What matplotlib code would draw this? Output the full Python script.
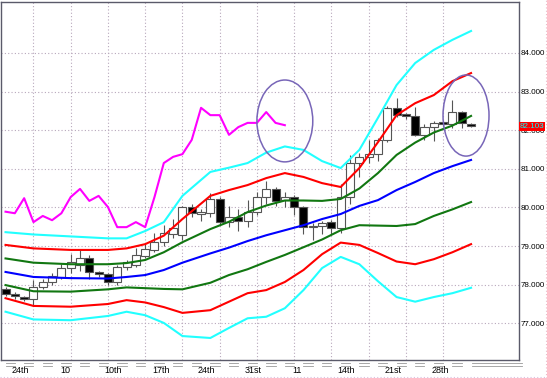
import matplotlib
matplotlib.use('Agg')
import matplotlib.pyplot as plt
import matplotlib.transforms as mtransforms
from matplotlib.patches import Ellipse
from matplotlib.lines import Line2D

# daily candles
opens = [77.90, 77.76, 77.69, 77.63, 77.94, 78.07, 78.20, 78.42, 78.51, 78.69,
         78.32, 78.27, 78.08, 78.45, 78.52, 78.75, 78.90, 79.10, 79.30, 79.28,
         80.00, 79.83, 79.85, 80.23, 79.62, 79.75, 79.66, 79.88, 80.26, 80.48,
         80.20, 80.28, 80.00, 79.50, 79.52, 79.62, 79.48, 80.27, 81.15, 81.30,
         81.38, 81.75, 82.58, 82.40, 82.38, 81.88, 82.08, 82.18, 82.17, 82.47,
         82.15]
highs = [77.95, 77.80, 77.72, 78.12, 78.15, 78.30, 78.53, 78.80, 78.92, 78.78,
         78.35, 78.30, 78.50, 78.65, 78.95, 79.05, 79.35, 79.55, 79.70, 80.05,
         80.10, 79.95, 80.38, 80.26, 80.05, 79.95, 80.20, 80.40, 80.68, 80.52,
         80.40, 80.32, 80.05, 79.60, 79.65, 79.68, 80.60, 81.35, 81.40, 81.75,
         81.80, 82.62, 82.83, 82.45, 82.60, 82.15, 82.25, 82.22, 82.78, 82.50,
         82.18]
lows = [77.72, 77.62, 77.58, 77.45, 77.88, 78.00, 78.15, 78.30, 78.35, 78.15,
        78.20, 77.98, 78.00, 78.38, 78.45, 78.70, 78.85, 79.00, 79.20, 79.15,
        79.75, 79.65, 79.75, 79.55, 79.50, 79.38, 79.50, 79.80, 80.10, 80.05,
        80.00, 79.80, 79.30, 79.15, 79.30, 79.30, 79.35, 80.10, 80.80, 81.15,
        81.20, 81.70, 82.35, 82.30, 81.85, 81.75, 81.72, 82.10, 82.05, 82.05,
        82.08]
closes = [77.77, 77.70, 77.63, 77.94, 78.06, 78.22, 78.44, 78.60, 78.69, 78.32,
          78.28, 78.08, 78.45, 78.59, 78.77, 78.92, 79.10, 79.34, 79.47, 80.00,
          79.85, 79.87, 80.23, 79.62, 79.75, 79.66, 79.88, 80.26, 80.48, 80.17,
          80.28, 80.00, 79.50, 79.52, 79.60, 79.48, 80.27, 81.15, 81.30, 81.38,
          81.75, 82.58, 82.40, 82.38, 81.88, 82.08, 82.18, 82.17, 82.47, 82.18,
          82.103]

# bollinger bands, sampled at these candle numbers
band_idx = [0, 3, 7, 11, 13, 15, 17, 19, 22, 24, 26, 28, 30, 32, 34, 36, 38, 40, 42, 44, 46, 48, 50]
mid = [78.33, 78.20, 78.17, 78.16, 78.20, 78.25, 78.38, 78.57, 78.81, 78.96, 79.13, 79.28,
       79.41, 79.54, 79.70, 79.83, 80.04, 80.19, 80.45, 80.66, 80.89, 81.07, 81.23]
up1 = [78.68, 78.57, 78.53, 78.53, 78.56, 78.64, 78.84, 79.10, 79.44, 79.63, 79.88, 80.05,
       80.18, 80.18, 80.17, 80.22, 80.49, 80.89, 81.36, 81.68, 81.94, 82.12, 82.37]
up2 = [79.03, 78.94, 78.90, 78.90, 78.94, 79.05, 79.27, 79.70, 80.30, 80.45, 80.58, 80.76,
       80.89, 80.79, 80.63, 80.53, 81.02, 81.69, 82.39, 82.70, 82.91, 83.27, 83.48]
up3 = [79.36, 79.30, 79.25, 79.20, 79.20, 79.39, 79.62, 80.30, 80.92, 81.03, 81.15, 81.42,
       81.58, 81.49, 81.20, 81.02, 81.49, 82.32, 83.17, 83.74, 84.08, 84.34, 84.57]
dn1 = [77.99, 77.83, 77.82, 77.88, 77.93, 77.91, 77.89, 77.88, 78.05, 78.25, 78.40, 78.59,
       78.77, 78.97, 79.17, 79.41, 79.54, 79.53, 79.52, 79.57, 79.78, 79.95, 80.14]
dn2 = [77.65, 77.45, 77.43, 77.50, 77.60, 77.54, 77.42, 77.27, 77.34, 77.56, 77.78, 77.86,
       78.07, 78.38, 78.79, 79.09, 79.03, 78.82, 78.60, 78.53, 78.66, 78.84, 79.05]
dn3 = [77.30, 77.10, 77.08, 77.19, 77.30, 77.21, 77.01, 76.67, 76.62, 76.88, 77.13, 77.17,
       77.39, 77.86, 78.43, 78.72, 78.53, 78.09, 77.68, 77.56, 77.68, 77.78, 77.92]

# lagging line (candles 0..30)
lag_line = [79.89, 79.85, 80.24, 79.62, 79.78, 79.67, 79.85, 80.27, 80.48, 80.17, 80.30,
            80.01, 79.49, 79.49, 79.62, 79.49, 80.27, 81.15, 81.31, 81.38, 81.75, 82.58,
            82.39, 82.39, 81.88, 82.08, 82.19, 82.19, 82.47, 82.19, 82.13]

y_ticks = [77, 78, 79, 80, 81, 82, 83, 84]
x_labels = ['24th', '10', '10th', '17th', '24th', '31st', '11', '14th', '21st', '28th']
x_label_pos = [1.6, 6.4, 11.6, 16.7, 21.6, 26.6, 31.3, 36.6, 41.6, 46.7]
week_lines = [3, 7, 11, 15, 19, 23, 27, 31, 35, 39, 43, 47]
last_price = 82.103

small_font = ['Liberation Sans', 'DejaVu Sans']

fig = plt.figure(figsize=(5.47, 3.78), dpi=100)
ax = fig.add_axes([0.5 / 547, 18 / 378, 518.5 / 547, 358 / 378])
ax.set_xlim(-0.54, 55.15)
ax.set_ylim(76.05, 85.32)

# grid
grid_col = '#b8a8bc'
for x in week_lines:
    ax.axvline(x, color=grid_col, lw=0.8, ls=(0, (1, 2)), zorder=0)
for y in y_ticks:
    ax.axhline(y, color=grid_col, lw=0.8, ls=(0, (1, 2)), zorder=0)

# candles
idx = list(range(len(closes)))
ax.vlines(idx, lows, highs, color='#555555', lw=0.8, zorder=2)
bottoms = [min(o, c) for o, c in zip(opens, closes)]
heights = [max(abs(c - o), 0.03) for o, c in zip(opens, closes)]
colors = ['black' if c < o else 'white' for o, c in zip(opens, closes)]
ax.bar(idx, heights, bottom=bottoms, width=0.86, color=colors,
       edgecolor='#555555', linewidth=0.8, zorder=3)

# bands
lw = 1.5
ax.plot(band_idx, up3, color='#22ffff', lw=lw, zorder=4)
ax.plot(band_idx, dn3, color='#22ffff', lw=lw, zorder=4)
ax.plot(band_idx, up2, color='#ff0000', lw=lw, zorder=4)
ax.plot(band_idx, dn2, color='#ff0000', lw=lw, zorder=4)
ax.plot(band_idx, up1, color='#117711', lw=lw, zorder=4)
ax.plot(band_idx, dn1, color='#117711', lw=lw, zorder=4)
ax.plot(band_idx, mid, color='#0000ff', lw=lw, zorder=4)
ax.plot(range(len(lag_line)), lag_line, color='#ff00ff', lw=lw, zorder=4)

# circles
for cx, cy, w, h in [(30.0, 82.24, 6.0, 2.12), (49.46, 82.38, 4.94, 2.10)]:
    ax.add_patch(Ellipse((cx, cy), w, h, fill=False, edgecolor='#7866b8', lw=1.1, zorder=5))

# axes styling
for s in ax.spines.values():
    s.set_color('#5a5a6a')
    s.set_linewidth(1.0)
ax.yaxis.tick_right()
ax.set_yticks(y_ticks)
ax.set_yticklabels(['%.3f' % v for v in y_ticks], family=small_font, fontsize=5.8)
ax.set_xticks(x_label_pos)
ax.set_xticklabels(x_labels, family=small_font, fontsize=6.5)
ax.tick_params(axis='both', length=0)
ax.tick_params(axis='y', pad=1)
ax.tick_params(axis='x', pad=4.5)

# last price tag
trans = mtransforms.blended_transform_factory(ax.transAxes, ax.transData)
ax.text(1.002, last_price, '%.3f' % last_price, transform=trans, fontsize=5.8,
        family=small_font, color='#00ffff', va='center', ha='left', zorder=10,
        bbox=dict(boxstyle='square,pad=0.1', facecolor='#ff0000', edgecolor='none'))

# separator dashes under the axis
tb = mtransforms.blended_transform_factory(ax.transData, ax.transAxes)
for k in range(25):
    for yy in (-0.009, -0.016):
        ax.plot([2 * k, 2 * k + 1], [yy, yy], color='#999999', lw=0.6,
                transform=tb, clip_on=False)
for yy in (-0.009, -0.016):
    ax.plot([50.1, 55.5], [yy, yy], color='#999999', lw=0.6, transform=tb, clip_on=False)

# outer dotted frame
fig.add_artist(Line2D([545.5 / 547, 545.5 / 547], [0, 1], color='#f0b8c8', lw=0.8, ls=(0, (1, 2))))
fig.add_artist(Line2D([0, 1], [1.5 / 378, 1.5 / 378], color='#d8c0e0', lw=0.8, ls=(0, (1, 2))))

fig.savefig('out.png', dpi=100)
